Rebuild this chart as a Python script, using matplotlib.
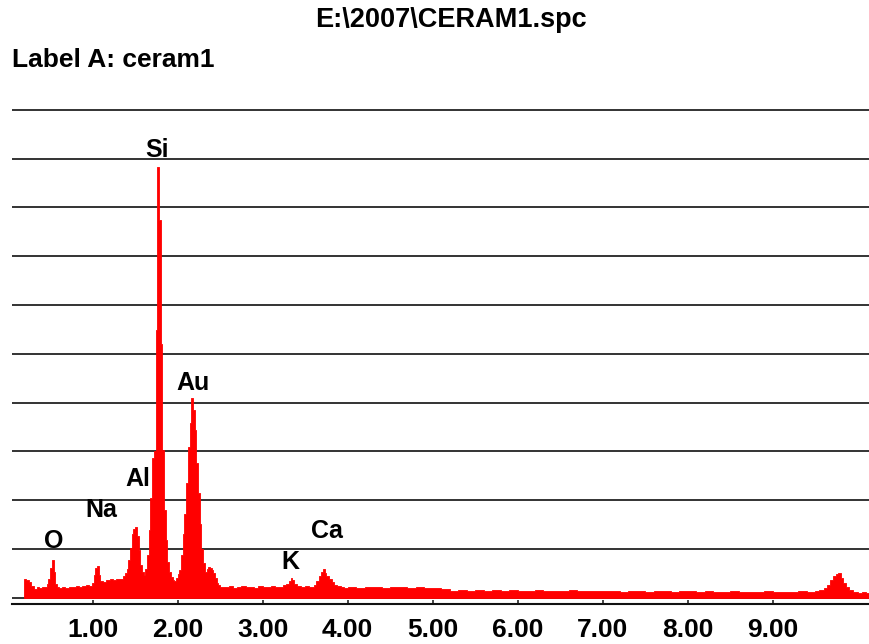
import matplotlib
matplotlib.use("Agg")
import matplotlib.pyplot as plt
from matplotlib.ticker import FixedLocator

# EDS spectrum of sample "ceram1": step edges (keV) and counts per step
energy_keV = [
    0.19, 0.22, 0.25, 0.28, 0.31, 0.34, 0.37, 0.40, 0.43, 0.46, 0.48, 0.50, 0.52, 0.54, 0.56, 0.58,
    0.60, 0.64, 0.68, 0.72, 0.76, 0.80, 0.84, 0.88, 0.92, 0.96, 0.99, 1.01, 1.03, 1.05, 1.07, 1.09,
    1.12, 1.16, 1.20, 1.24, 1.28, 1.32, 1.36,
    1.38, 1.40, 1.42, 1.44, 1.46, 1.48, 1.50, 1.52, 1.54, 1.56, 1.58, 1.60, 1.62, 1.64, 1.66, 1.68,
    1.70, 1.72, 1.74, 1.76, 1.78, 1.80, 1.82, 1.84, 1.86, 1.88, 1.90, 1.92, 1.94, 1.96, 1.98, 2.00,
    2.02, 2.04, 2.06, 2.08, 2.10, 2.12, 2.14, 2.16, 2.18, 2.20, 2.22, 2.24, 2.26, 2.28, 2.30, 2.32,
    2.34, 2.36, 2.38, 2.40, 2.42, 2.44, 2.46, 2.48, 2.50,
    2.55, 2.60, 2.65, 2.70, 2.75, 2.80, 2.85, 2.90, 2.95, 3.00, 3.05, 3.10, 3.15, 3.20, 3.24, 3.28,
    3.31, 3.33, 3.35, 3.37, 3.40, 3.45, 3.50, 3.55, 3.60, 3.63, 3.66, 3.69, 3.71, 3.73, 3.75, 3.78,
    3.81, 3.84, 3.88, 3.92, 3.96,
    4.0, 4.1, 4.2, 4.3, 4.4, 4.5, 4.6, 4.7, 4.8, 4.9,
    5.0, 5.1, 5.2, 5.3, 5.4, 5.5, 5.6, 5.7, 5.8, 5.9,
    6.0, 6.1, 6.2, 6.3, 6.4, 6.5, 6.6, 6.7, 6.8, 6.9,
    7.0, 7.1, 7.2, 7.3, 7.4, 7.5, 7.6, 7.7, 7.8, 7.9,
    8.0, 8.1, 8.2, 8.3, 8.4, 8.5, 8.6, 8.7, 8.8, 8.9,
    9.0, 9.1, 9.2, 9.3, 9.4,
    9.50, 9.55, 9.60, 9.64, 9.68, 9.71, 9.74, 9.77, 9.80, 9.83, 9.86, 9.90, 9.95, 10.00, 10.05, 10.10,
]
counts = [
    39, 36, 31, 24, 18, 21, 19, 22, 21, 27, 38, 60, 76, 52, 28, 22,
    20, 21, 20, 22, 21, 23, 22, 24, 25, 23, 30, 46, 60, 64, 47, 34,
    31, 35, 37, 36, 39, 38, 44,
    50, 58, 76, 102, 130, 141, 144, 126, 98, 66, 52, 46, 58, 88, 138, 205,
    287, 300, 548, 883, 774, 521, 302, 179, 117, 72, 52, 42, 36, 34, 40, 49,
    56, 88, 130, 172, 234, 308, 357, 409, 384, 343, 275, 214, 150, 100, 70, 52,
    58, 62, 60, 57, 50, 40, 30, 25, 22,
    21, 23, 20, 22, 24, 21, 22, 20, 23, 21, 22, 24, 21, 22, 25, 28,
    34, 40, 35, 28, 24, 22, 23, 22, 26, 34, 44, 52, 58, 50, 44, 38,
    31, 25, 23, 21, 20,
    21, 20, 22, 21, 20, 22, 21, 19, 22, 20,
    19, 18, 14, 15, 14, 15, 14, 15, 13, 15,
    14, 13, 15, 14, 13, 14, 15, 13, 14, 13,
    14, 13, 12, 14, 13, 12, 13, 14, 12, 13,
    13, 12, 13, 11, 12, 13, 12, 11, 12, 13,
    12, 11, 12, 13, 12,
    14, 16, 20, 26, 36, 44, 48, 51, 40, 30, 22, 16, 12, 10, 11, 10,
]
spectrum_end_keV = 10.15

# Peak identifications: element, label x (keV), label baseline (counts)
elements = ["O", "Na", "Al", "Si", "Au", "K", "Ca"]
element_x = [0.545, 1.098, 1.533, 1.756, 2.18, 3.32, 3.757]
element_y = [102, 165, 229, 904, 426, 59, 122]

x_ticks = [1, 2, 3, 4, 5, 6, 7, 8, 9]
x_tick_labels = ["1.00", "2.00", "3.00", "4.00", "5.00", "6.00", "7.00", "8.00", "9.00"]
grid_levels = [0, 100, 200, 300, 400, 500, 600, 700, 800, 900, 1000]

title_text = "E:\\2007\\CERAM1.spc"
label_text = "Label A: ceram1"

FONT = ["Liberation Sans", "DejaVu Sans"]
W, H = 870, 644

fig = plt.figure(figsize=(W / 100, H / 100), dpi=100)
fig.patch.set_facecolor("white")


def fx(px):
    return px / W


def fy(py):
    return 1 - py / H


ax = fig.add_axes([fx(12), fy(604), fx(870) - fx(12), fy(100) - fy(604)])
ax.set_facecolor("white")
ax.set_xlim(0.0506, 10.145)
ax.set_ylim(-13.3, 1020.5)

# horizontal reference lines
ax.hlines(grid_levels, 0.0506, 10.145, colors="#111111", linewidth=1.2, zorder=1)

# spectrum as a filled histogram
xs = list(energy_keV) + [spectrum_end_keV]
ys = list(counts) + [counts[-1]]
ax.fill_between(xs, ys, 0, step="post", facecolor="#ff0000", edgecolor="#ff0000",
                linewidth=0.6, antialiased=False, zorder=3)

for sp in ["left", "right", "top"]:
    ax.spines[sp].set_visible(False)
ax.spines["bottom"].set_linewidth(1.5)
ax.spines["bottom"].set_color("#111111")

ax.yaxis.set_visible(False)
ax.xaxis.set_major_locator(FixedLocator(x_ticks))
ax.set_xticklabels(x_tick_labels, fontfamily=FONT, fontweight="bold", fontsize=19)
ax.tick_params(axis="x", direction="in", length=3, width=1.1, color="#111111", pad=10)

for name, ex, ey in zip(elements, element_x, element_y):
    ax.text(ex, ey, name, ha="center", va="baseline", fontsize=18,
            fontweight="bold", family=FONT, zorder=5)

fig.text(fx(451), fy(27), title_text, ha="center", va="baseline",
         fontsize=19.5, fontweight="bold", family=FONT)
fig.text(fx(12), fy(67), label_text, ha="left", va="baseline",
         fontsize=19, fontweight="bold", family=FONT)

fig.savefig("out.png", dpi=100, facecolor="white")
